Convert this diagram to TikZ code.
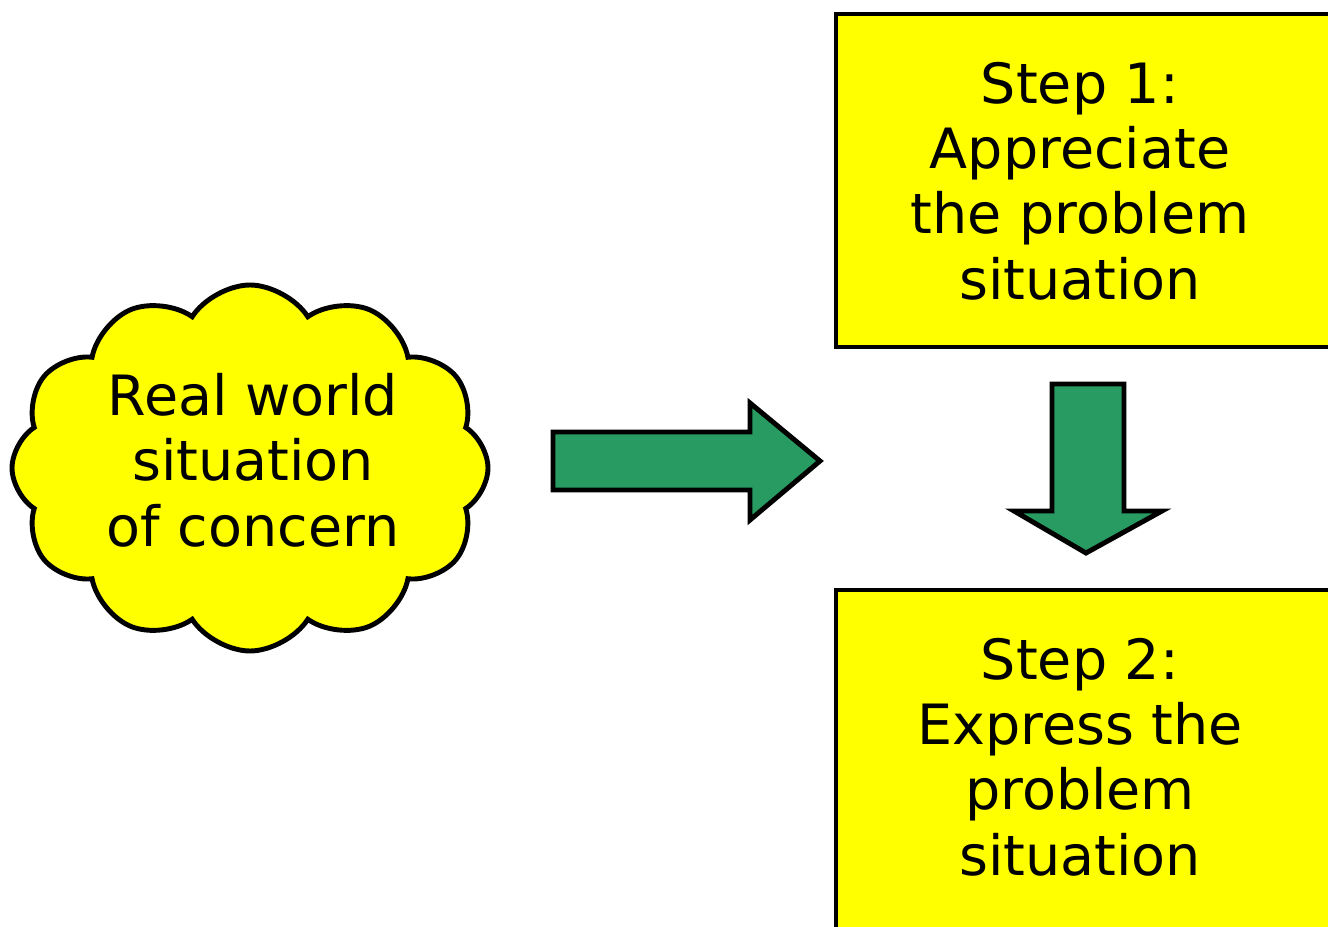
\documentclass[tikz,border=0pt]{standalone}
\usepackage{fontspec}
\setmainfont{DejaVu Sans}
\usetikzlibrary{shapes.symbols}
\definecolor{stepyellow}{RGB}{255,255,0}
\definecolor{flowgreen}{RGB}{40,155,98}

\tikzset{
  labeltext/.style={align=center, font=\fontsize{15.8}{18.6}\selectfont},
  stepbox/.style={draw=black, line width=1.4pt, fill=stepyellow, inner sep=0pt},
  concern/.style={labeltext, cloud, cloud puffs=12, cloud puff arc=115, cloud ignores aspect,
    draw=black, line width=1.4pt, fill=stepyellow, inner sep=0pt},
  blockarrow/.style={draw=black, line width=1.4pt, fill=flowgreen, line join=miter}
}

\begin{document}
\begin{tikzpicture}

\useasboundingbox (0,0) rectangle (13.28,-9.27);
\clip (0,0) rectangle (13.28,-9.27);

% the situation
\node[concern, minimum width=4.76cm, minimum height=3.66cm] (world) at (2.50,-4.68) {};
\node[labeltext] (worldtext) at (2.53,-4.60) {Real world\\situation\\of concern};

% the two steps (boxes run off the right edge)
\node[stepbox, minimum width=5.04cm, minimum height=3.33cm] (step1) at (10.88,-1.805) {};
\node[labeltext] (step1text) at (10.80,-1.81) {Step 1:\\Appreciate\\the problem\\situation};
\node[stepbox, minimum width=5.04cm, minimum height=3.40cm] (step2) at (10.88,-7.60) {};
\node[labeltext] (step2text) at (10.80,-7.57) {Step 2:\\Express the\\problem\\situation};

% block arrows
\coordinate (r0) at (5.53,-4.61);
\coordinate (d0) at (10.86,-3.84);

\draw[blockarrow] (r0) ++(0,0.29) -- ++(1.97,0) -- ++(0,0.29) -- ++(0.70,-0.58)
  -- ++(-0.70,-0.59) -- ++(0,0.30) -- ++(-1.97,0) -- cycle;
\draw[blockarrow] (d0) ++(-0.34,0) -- ++(0,-1.27) -- ++(-0.38,0) -- ++(0.72,-0.42)
  -- ++(0.76,0.42) -- ++(-0.38,0) -- ++(0,1.27) -- cycle;

\end{tikzpicture}
\end{document}
